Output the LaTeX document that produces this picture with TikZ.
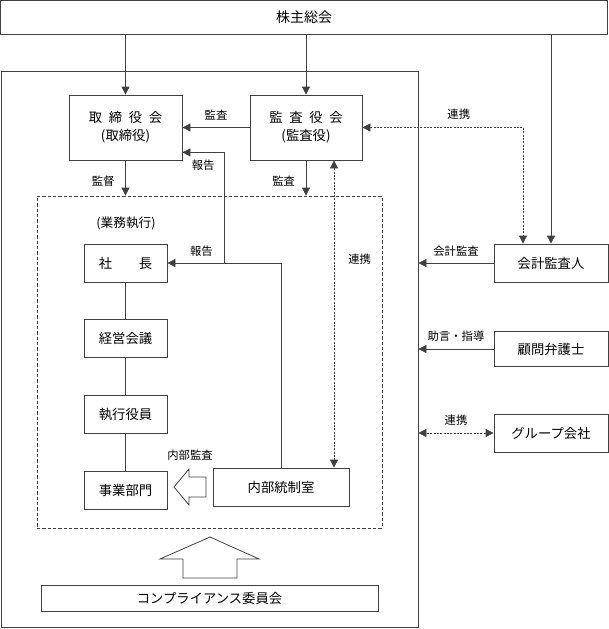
\documentclass[tikz,border=0pt]{standalone}
\usepackage{fontspec}
\setmainfont{Noto Sans CJK JP}
\usepackage{tikz}
\usetikzlibrary{arrows.meta,positioning}

\begin{document}
\begin{tikzpicture}[
    x=0.75pt, y=-0.75pt,
    color=black!75, line width=0.6pt,
    box/.style={rectangle, draw, text=black, minimum width=84.75pt, minimum height=48.75pt, align=center, inner sep=0pt, font=\fontsize{10}{13.5}\selectfont},
    smallbox/.style={rectangle, draw, text=black, minimum width=62.25pt, minimum height=28.5pt, inner sep=0pt, font=\fontsize{10}{12}\selectfont},
    sidebox/.style={rectangle, draw, text=black, minimum width=85.5pt, minimum height=28.5pt, inner sep=0pt, font=\fontsize{10}{12}\selectfont},
    lbl/.style={text=black, inner sep=1.5pt, font=\fontsize{8.5}{10}\selectfont},
    arr/.style={-{Triangle[length=6pt,width=6pt]}},
    darr/.style={{Triangle[length=6pt,width=6pt]}-{Triangle[length=6pt,width=6pt]}, dash pattern=on 1.5pt off 1pt}
]
    \useasboundingbox (0,0) rectangle (608,629);

    % Shareholders
    \node[rectangle, draw, text=black, minimum width=455.25pt, minimum height=25.5pt, font=\fontsize{10.5}{12}\selectfont] (gm) at (304,17) {株主総会};

    % Company frame
    \node[rectangle, draw, minimum width=312.75pt, minimum height=417pt] (frame) at (209.5,349) {};
    \node[rectangle, draw, dash pattern=on 2.5pt off 1.5pt, minimum width=258.75pt, minimum height=249pt] (exec) at (209.5,362) {};

    % Boards
    \node[box] (brd) at (125.5,127.5) {取\hspace{0.5em}締\hspace{0.5em}役\hspace{0.5em}会\\(取締役)};
    \node[box, minimum width=84pt] (aud) at (306,127.5) {監\hspace{0.5em}査\hspace{0.5em}役\hspace{0.5em}会\\(監査役)};

    % Execution
    \node[lbl, font=\fontsize{9.5}{11}\selectfont] (bizexec) at (126,223) {(業務執行)};
    \node[smallbox] (pres) at (125.5,263) {社\hspace{2em}長};
    \node[smallbox, below=27.75pt of pres] (mgmt) {経営会議};
    \node[smallbox, below=27.75pt of mgmt] (offi) {執行役員};
    \node[smallbox, below=27.75pt of offi] (dept) {事業部門};
    \node[smallbox, minimum width=102pt] (ctrl) at (281,487) {内部統制室};
    \node[lbl] (iaud) at (190,455) {内部監査};

    % Outside
    \node[sidebox] (acc) at (551,263) {会計監査人};
    \node[sidebox, minimum height=26pt] (law) at (551,349) {顧問弁護士};
    \node[sidebox] (grp) at (551,433) {グループ会社};
    \node[rectangle, draw, text=black, minimum width=252.75pt, minimum height=19.5pt, font=\fontsize{10}{12}\selectfont] (comp) at (209.5,598) {コンプライアンス委員会};

    \coordinate (lk) at (334,0);
    \coordinate (rep) at (224,263);

    % Connections
    \draw[arr] (gm.south -| brd.north) -- (brd.north);
    \draw[arr] (gm.south -| aud.north) -- (aud.north);
    \draw[arr] (gm.south -| acc.north) -- (acc.north);
    \draw[arr] (aud.west |- brd.east) -- node[lbl, above=4pt] {監査} (brd.east);
    \draw[arr] (brd.south) -- node[lbl, left=6.5pt, pos=0.58] {監督} (brd.south |- exec.north);
    \draw[arr] (aud.south) -- node[lbl, left=6.5pt, pos=0.58] {監査} (aud.south |- exec.north);
    \draw[arr] (rep) |- node[lbl, below=4pt, pos=0.75] {報告} ([yshift=6pt]brd.south east);
    \draw[arr] (ctrl.north) |- node[lbl, above=3pt, pos=0.85] {報告} (pres.east);
    \draw (pres) -- (mgmt) -- (offi) -- (dept);
    \draw[darr] (aud.south -| lk) -- node[lbl, right=9pt, pos=0.32] {連携} (ctrl.north -| lk);
    \draw[darr] (aud.east) -| node[lbl, above=4pt, pos=0.3] {連携} ([xshift=-21pt]acc.north);
    \draw[arr] (acc.west) -- node[lbl, above=3pt] {会計監査} (acc.west -| frame.east);
    \draw[arr] (law.west) -- node[lbl, above=4pt] {助言・指導} (law.west -| frame.east);
    \draw[darr] (grp.west) -- node[lbl, above=4pt] {連携} (grp.west -| frame.east);

    % Block arrows
    \draw[fill=white] (174,487) -- (189,469) -- (189,477) -- (206,477) -- (206,497) -- (189,497) -- (189,505) -- cycle;
    \draw[fill=white] (210,537) -- (259,559) -- (237,559) -- (237,578) -- (183,578) -- (183,559) -- (160,559) -- cycle;
\end{tikzpicture}
\end{document}
